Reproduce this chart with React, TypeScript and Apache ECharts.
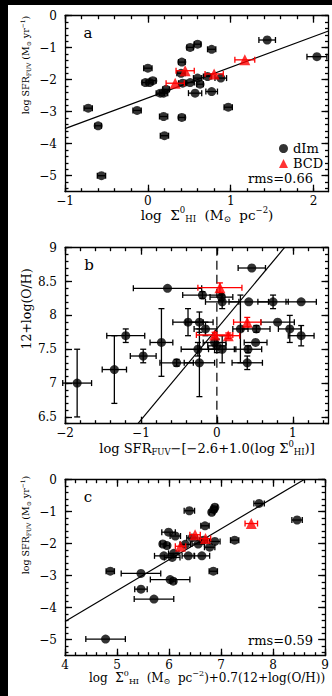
import React, { useEffect, useRef } from "react";
import * as echarts from "echarts";

const FONT = "DejaVu Serif";

// ---------- Panel a : log Σ_HI vs log SFR ----------
// [x, y, xerr]
const aDimPoints = [
  [-0.72, -2.89, 0.05], [-0.6, -3.44, 0.04], [-0.56, -5.0, 0.05], [-0.13, -2.96, 0.05],
  [0.0, -1.64, 0.05], [-0.03, -2.09, 0.04], [0.02, -2.09, 0.04], [0.06, -2.03, 0.04],
  [0.15, -2.42, 0.05], [0.19, -2.42, 0.05], [0.22, -2.3, 0.04], [0.19, -3.15, 0.05],
  [0.2, -3.75, 0.05], [0.41, -3.18, 0.04], [0.41, -1.45, 0.04], [0.4, -1.8, 0.05],
  [0.42, -2.11, 0.05], [0.51, -0.99, 0.04], [0.6, -0.89, 0.04], [0.51, -2.09, 0.05],
  [0.57, -2.42, 0.08], [0.63, -2.14, 0.04], [0.6, -1.95, 0.05], [0.77, -1.05, 0.05],
  [0.77, -2.37, 0.07], [0.72, -1.9, 0.05], [0.88, -1.95, 0.07], [0.97, -2.86, 0.05],
  [1.44, -0.76, 0.1], [2.04, -1.28, 0.12],
];
const aBcdPoints = [
  [0.33, -2.11, 0.11], [0.45, -1.72, 0.11], [0.8, -1.82, 0.11], [1.17, -1.38, 0.12],
];
const aFitLine = [[-1, -3.53], [2.18, -0.48]];
const aXTicks = [-1, 0, 1, 2];
const aYTicks = [0, -1, -2, -3, -4, -5];

// ---------- Panel b : residual vs 12+log(O/H) ----------
// [x, y, xerr, yerr]
const bDimPoints = [
  [-1.84, 7.0, 0.19, 0.5], [-1.35, 7.2, 0.16, 0.5], [-1.2, 7.7, 0.25, 0.1], [-0.97, 7.4, 0.17, 0.1],
  [-0.73, 7.6, 0.15, 0.5], [-0.65, 8.4, 0.45, 0], [-0.53, 7.3, 0.22, 0.05], [-0.38, 7.9, 0.2, 0.2],
  [-0.23, 7.9, 0.18, 0.15], [-0.25, 7.5, 0.22, 0.1], [-0.23, 7.3, 0.2, 0.5], [-0.19, 8.3, 0.26, 0.05],
  [-0.15, 7.8, 0.15, 0.1], [-0.03, 7.6, 0.15, 0.1], [0.0, 7.55, 0.12, 0.1], [0.06, 8.27, 0.15, 0.05],
  [0.07, 8.2, 0.22, 0.1], [0.07, 7.5, 0.18, 0.2], [0.31, 7.8, 0.1, 0.5], [0.42, 8.2, 0.26, 0],
  [0.41, 7.5, 0.18, 0.05], [0.4, 7.3, 0.2, 0.1], [0.46, 8.7, 0.18, 0], [0.52, 7.8, 0.18, 0.05],
  [0.51, 7.6, 0.15, 0], [0.74, 8.2, 0.2, 0.1], [0.8, 7.9, 0.22, 0], [0.96, 7.8, 0.15, 0.2],
  [1.11, 8.2, 0.2, 0], [1.11, 7.7, 0.17, 0.15],
];
const bBcdPoints = [
  [0.04, 8.41, 0.29, 0.07], [0.4, 7.9, 0.18, 0.07], [-0.03, 7.71, 0.24, 0.04], [0.15, 7.7, 0.15, 0.04],
];
const bFitLine = [[-1.04, 6.4], [0.89, 9.0]];
const bZeroLine = [[0, 6.4], [0, 9]];
const bXTicks = [-2, -1, 0, 1];
const bYTicks = [6.5, 7, 7.5, 8, 8.5, 9];

// ---------- Panel c : combined vs log SFR ----------
// [x, y, xerr]
const cDimPoints = [
  [4.87, -2.86, 0.08], [4.78, -4.98, 0.38], [5.46, -2.93, 0.38], [5.46, -3.42, 0.12],
  [5.71, -3.73, 0.38], [6.02, -3.12, 0.38], [6.08, -3.17, 0.05], [5.99, -1.64, 0.13],
  [5.88, -2.01, 0.05], [5.96, -2.06, 0.05], [5.9, -2.38, 0.18], [6.12, -1.76, 0.1],
  [6.09, -2.3, 0.1], [6.06, -2.43, 0.15], [6.39, -0.97, 0.1], [6.37, -2.38, 0.12],
  [6.44, -1.82, 0.1], [6.69, -1.44, 0.08], [6.82, -1.02, 0.05], [6.86, -0.93, 0.05],
  [6.88, -0.86, 0.05], [6.63, -2.38, 0.15], [6.56, -2.01, 0.12], [6.66, -1.89, 0.08],
  [6.85, -2.86, 0.08], [6.88, -1.93, 0.1], [6.78, -2.11, 0.1], [7.26, -1.89, 0.08],
  [7.73, -0.74, 0.1], [8.46, -1.26, 0.1], [6.31, -2.02, 0.1],
];
const cBcdPoints = [
  [6.22, -2.08, 0.1], [6.5, -1.72, 0.1], [6.7, -1.84, 0.1], [7.58, -1.37, 0.12],
];
const cFitLine = [[4, -4.43], [8.59, 0]];
const cXTicks = [4, 5, 6, 7, 8, 9];
const cYTicks = [0, -1, -2, -3, -4, -5];

const legendNames = ["dIm", "BCD"];
const rmsLabels = ["rms=0.66", "rms=0.59"];
const panelLetters = ["a", "b", "c"];

// ---------- layout (chart-local px) ----------
const GRID_LEFT = 57;
const GRID_W = 263.5;
const GRID_H = 176;
const GRID_TOPS = [10.7, 242.7, 474.7];

function fmt(v: number) {
  return v < 0 ? "\u2212" + String(Math.abs(v)) : String(v);
}

function minorValues(min: number, max: number, step: number) {
  const out: number[] = [];
  const k0 = Math.ceil(min / step - 1e-9);
  const k1 = Math.floor(max / step + 1e-9);
  for (let k = k0; k <= k1; k++) out.push(Math.round(k * step * 1000) / 1000);
  return out;
}

function axisSet(grid: number, dim: "x" | "y", cfg: any) {
  const mainPos = dim === "x" ? "bottom" : "left";
  const oppPos = dim === "x" ? "top" : "right";
  const line = { color: "#000", width: 1.3 };
  const base = {
    type: "value",
    gridIndex: grid,
    min: cfg.min,
    max: cfg.max,
    splitLine: { show: false },
    scale: true,
  };
  const minors = minorValues(cfg.min, cfg.max, cfg.minor);
  const majorTick = { show: true, inside: true, length: 7, customValues: cfg.ticks, lineStyle: line };
  const minorTick = { show: true, inside: true, length: 3.5, customValues: minors, lineStyle: line };
  return [
    {
      ...base,
      position: mainPos,
      axisLine: { show: true, onZero: false, lineStyle: line },
      axisTick: majorTick,
      axisLabel: {
        show: true,
        customValues: cfg.ticks,
        formatter: (v: number) => fmt(v),
        margin: dim === "x" ? 4 : 8,
        fontFamily: FONT,
        fontSize: 12,
        lineHeight: 10,
        color: "#000",
      },
    },
    { ...base, position: mainPos, axisLine: { show: false, onZero: false }, axisTick: minorTick, axisLabel: { show: false } },
    { ...base, position: oppPos, axisLine: { show: true, onZero: false, lineStyle: line }, axisTick: majorTick, axisLabel: { show: false } },
    { ...base, position: oppPos, axisLine: { show: false, onZero: false }, axisTick: minorTick, axisLabel: { show: false } },
  ];
}

function errorBars(color: string) {
  return (params: any, api: any) => {
    const x = api.value(0), y = api.value(1), xe = api.value(2), ye = api.value(3);
    const cap = 3;
    const style = { stroke: color, lineWidth: 1.3 };
    const children: any[] = [];
    if (xe > 0) {
      const l = api.coord([x - xe, y]);
      const r = api.coord([x + xe, y]);
      children.push({ type: "line", shape: { x1: l[0], y1: l[1], x2: r[0], y2: r[1] }, style });
      children.push({ type: "line", shape: { x1: l[0], y1: l[1] - cap, x2: l[0], y2: l[1] + cap }, style });
      children.push({ type: "line", shape: { x1: r[0], y1: r[1] - cap, x2: r[0], y2: r[1] + cap }, style });
    }
    if (ye > 0) {
      const t = api.coord([x, y + ye]);
      const b = api.coord([x, y - ye]);
      children.push({ type: "line", shape: { x1: t[0], y1: t[1], x2: b[0], y2: b[1] }, style });
      children.push({ type: "line", shape: { x1: t[0] - cap, y1: t[1], x2: t[0] + cap, y2: t[1] }, style });
      children.push({ type: "line", shape: { x1: b[0] - cap, y1: b[1], x2: b[0] + cap, y2: b[1] }, style });
    }
    return { type: "group", children };
  };
}

function richFor(n: number, s: number) {
  const lh = Math.round(n * 1.3);
  return {
    n: { fontFamily: FONT, fontSize: n, lineHeight: lh, color: "#000" },
    s: { fontFamily: FONT, fontSize: s, lineHeight: s, verticalAlign: "bottom", color: "#000" },
    u: { fontFamily: FONT, fontSize: s, lineHeight: s, verticalAlign: "top", color: "#000" },
  };
}

const ySfrTitle = "{n|log SFR}{s|FUV}{n| (M}{s|\u2299}{n| yr}{u|\u22121}{n|)}";
const xSigmaTitle = "{n|log  \u03a3}{u|0}{s|HI}{n|  (M}{s|\u2299}{n|  pc}{u|\u22122}{n|)}";
const xResTitle = "{n|log SFR}{s|FUV}{n|\u2212[\u22122.6+1.0(log \u03a3}{u|0}{s|HI}{n|)]}";
const yOhTitle = "{n|12+log(O/H)}";
const xCombTitle = "{n|log  \u03a3}{u|0}{s|HI}{n|  (M}{s|\u2299}{n|  pc}{u|\u22122}{n|)+0.7(12+log(O/H))}";

function titleText(text: string, x: number, y: number, vertical: boolean, n: number, s: number) {
  return {
    type: "text",
    x,
    y,
    rotation: vertical ? Math.PI / 2 : 0,
    style: {
      text,
      rich: richFor(n, s),
      align: "center",
      verticalAlign: "middle",
      textAlign: "center",
      textVerticalAlign: "middle",
      fill: "#000",
    },
  };
}

function plainText(text: string, x: number, y: number, size: number, align: string) {
  return {
    type: "text",
    x,
    y,
    style: { text, fontFamily: FONT, fontSize: size, lineHeight: size, fill: "#000", align, verticalAlign: "middle", textAlign: align, textVerticalAlign: "middle" },
  };
}

export default function App() {
  const ref = useRef<HTMLDivElement>(null);
  useEffect(() => {
    if (!ref.current) return;
    const chart = echarts.init(ref.current, undefined, { renderer: "svg" });

    const panels = [
      { x: { min: -1, max: 2.18, ticks: aXTicks, minor: 0.2 }, y: { min: -5.5, max: 0, ticks: aYTicks, minor: 0.2 },
        dim: aDimPoints.map((d) => [d[0], d[1], d[2], 0]), bcd: aBcdPoints.map((d) => [d[0], d[1], d[2], 0]), fit: aFitLine },
      { x: { min: -2, max: 1.47, ticks: bXTicks, minor: 0.2 }, y: { min: 6.4, max: 9, ticks: bYTicks, minor: 0.1 },
        dim: bDimPoints, bcd: bBcdPoints, fit: bFitLine },
      { x: { min: 4, max: 9, ticks: cXTicks, minor: 0.2 }, y: { min: -5.5, max: 0, ticks: cYTicks, minor: 0.2 },
        dim: cDimPoints.map((d) => [d[0], d[1], d[2], 0]), bcd: cBcdPoints.map((d) => [d[0], d[1], d[2], 0]), fit: cFitLine },
    ];

    const grid = GRID_TOPS.map((top) => ({ left: GRID_LEFT, top, width: GRID_W, height: GRID_H, containLabel: false }));
    const xAxis = panels.flatMap((p, i) => axisSet(i, "x", p.x));
    const yAxis = panels.flatMap((p, i) => axisSet(i, "y", p.y));

    const series: any[] = [];
    panels.forEach((p, i) => {
      const ax = { xAxisIndex: i * 4, yAxisIndex: i * 4 };
      series.push({ type: "line", ...ax, data: p.fit, symbol: "none", lineStyle: { color: "#000", width: 1.2 }, z: 1, silent: true });
      if (i === 1) {
        series.push({ type: "line", ...ax, data: bZeroLine, symbol: "none", lineStyle: { color: "#000", width: 1.2, type: [9, 5] }, z: 1, silent: true });
      }
      series.push({ type: "custom", ...ax, data: p.dim, renderItem: errorBars("#000"), encode: { x: 0, y: 1 }, z: 2 });
      series.push({ type: "scatter", name: legendNames[0], ...ax, data: p.dim.map((d) => [d[0], d[1]]), symbol: "circle", symbolSize: 9, itemStyle: { color: "#000" }, z: 3 });
      series.push({ type: "custom", ...ax, data: p.bcd, renderItem: errorBars("#ff0000"), encode: { x: 0, y: 1 }, z: 4 });
      series.push({ type: "scatter", name: legendNames[1], ...ax, data: p.bcd.map((d) => [d[0], d[1]]), symbol: "triangle", symbolSize: 11, itemStyle: { color: "#ff0000" }, z: 5 });
    });

    const graphic = [
      titleText(ySfrTitle, 17, 60, true, 9.5, 6),
      titleText(xSigmaTitle, 199, 209.5, false, 13.5, 8.5),
      titleText(yOhTitle, 18, 304, true, 12.5, 8),
      titleText(xResTitle, 199, 443, false, 13, 8.5),
      titleText(ySfrTitle, 17, 520, true, 9.5, 6),
      titleText(xCombTitle, 199, 672.5, false, 12, 8),
      plainText(panelLetters[0], 80, 28, 15, "center"),
      plainText(panelLetters[1], 81, 260, 15, "center"),
      plainText(panelLetters[2], 80, 492, 15, "center"),
      plainText(rmsLabels[0], 305, 173, 13, "right"),
      plainText(rmsLabels[1], 305, 635, 13, "right"),
    ];

    chart.setOption({
      animation: false,
      backgroundColor: "#fff",
      grid,
      xAxis,
      yAxis,
      series,
      graphic,
      legend: {
        data: legendNames,
        orient: "vertical",
        left: 266,
        top: 132,
        itemWidth: 9,
        itemHeight: 9,
        itemGap: 2,
        selectedMode: false,
        textStyle: { fontFamily: FONT, fontSize: 13, lineHeight: 12, color: "#000" },
      },
    });
    return () => chart.dispose();
  }, []);

  return (
    <div style={{ position: "fixed", left: 0, top: 0, width: 332, height: 696, background: "#000" }}>
      <div ref={ref} style={{ position: "absolute", left: 8, top: 5, width: 324, height: 691, background: "#fff" }} />
    </div>
  );
}
